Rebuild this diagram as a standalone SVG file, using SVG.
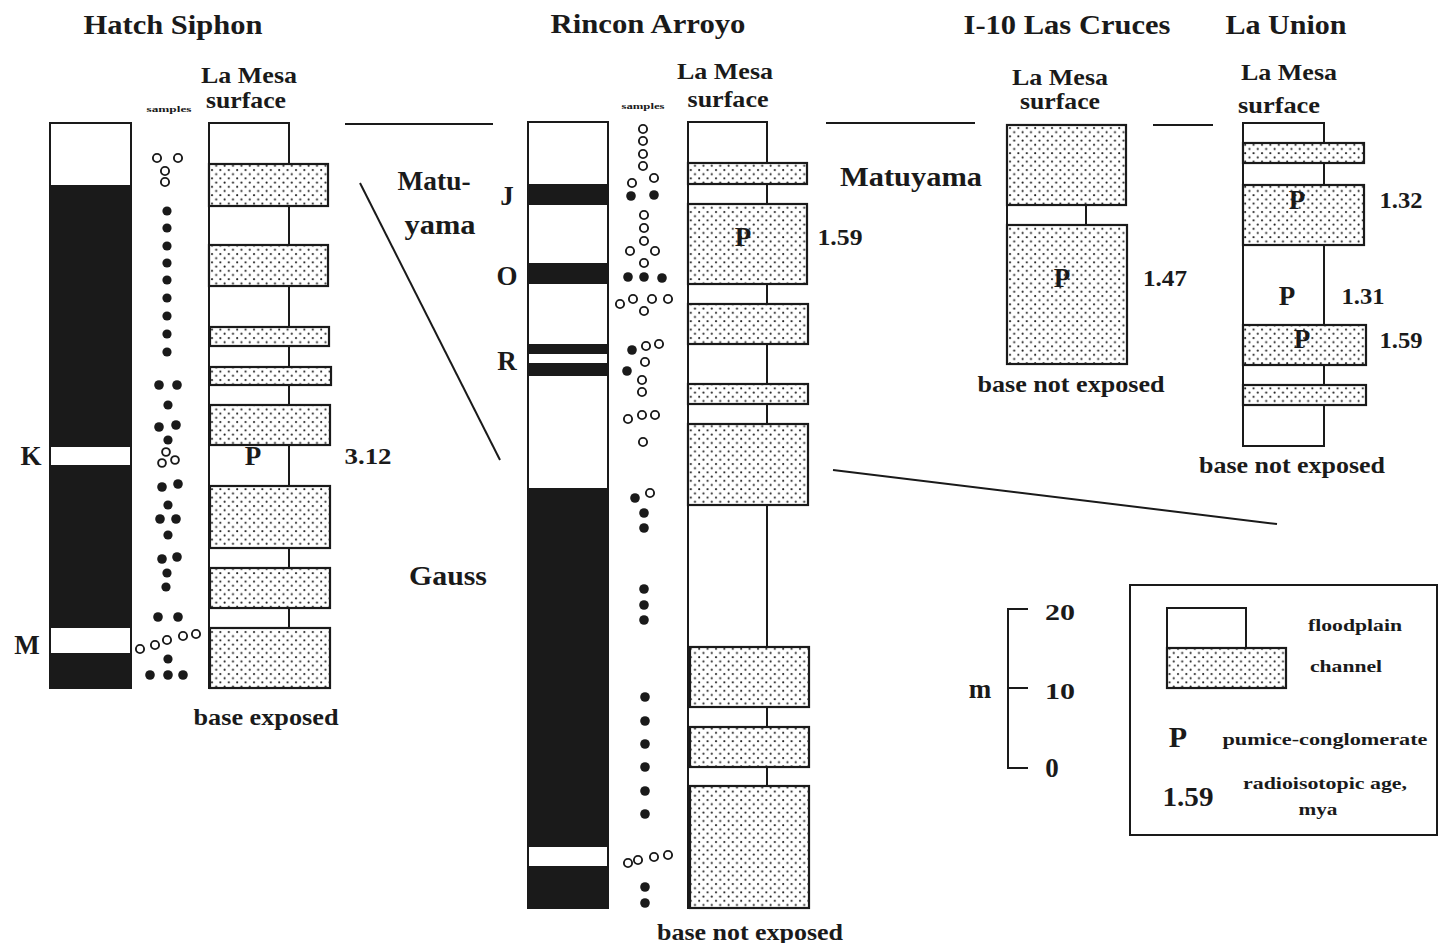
<svg xmlns="http://www.w3.org/2000/svg" width="1439" height="943" viewBox="0 0 1439 943">
<style>
.t{font-family:"Liberation Serif","Times New Roman",serif;font-weight:bold;fill:#1a1a1a}
.ttl{font-size:27px}
.lbl{font-size:24px}
.big{font-size:27px}
.sm{font-size:17px}
.tiny{font-size:9px}
.col{fill:#fff;stroke:#1a1a1a;stroke-width:2}
.ch{fill:url(#stip);stroke:#1a1a1a;stroke-width:2.2}
.blk{fill:#1a1a1a}
.op{fill:none;stroke:#1a1a1a;stroke-width:1.9}
.fd{fill:#1a1a1a}
.ln{stroke:#1a1a1a;stroke-width:2;fill:none}
</style>
<defs>
<pattern id="stip" width="8.4" height="8.4" patternUnits="userSpaceOnUse">
<rect width="8.4" height="8.4" fill="#fff"/>
<circle cx="2" cy="2" r="1.05" fill="#222"/>
<circle cx="6.2" cy="6.2" r="1.05" fill="#222"/>
</pattern>
</defs>
<rect width="1439" height="943" fill="#fff"/>

<!-- Titles -->
<text class="t ttl" x="173" y="34" text-anchor="middle" textLength="179" lengthAdjust="spacingAndGlyphs">Hatch Siphon</text>
<text class="t ttl" x="648" y="33" text-anchor="middle" textLength="195" lengthAdjust="spacingAndGlyphs">Rincon Arroyo</text>
<text class="t ttl" x="1067" y="34" text-anchor="middle" textLength="207" lengthAdjust="spacingAndGlyphs">I-10 Las Cruces</text>
<text class="t ttl" x="1286" y="34" text-anchor="middle" textLength="121" lengthAdjust="spacingAndGlyphs">La Union</text>

<!-- Hatch Siphon -->
<g id="hatch-polarity">
<rect class="col" x="50" y="123" width="81" height="565"/>
<rect class="blk" x="50" y="185" width="81" height="262"/>
<rect class="blk" x="50" y="465" width="81" height="163"/>
<rect class="blk" x="50" y="653" width="81" height="35"/>
<text class="t big" x="31" y="465" text-anchor="middle">K</text>
<text class="t big" x="27" y="654" text-anchor="middle">M</text>
</g>
<g id="hatch-samples">
<text class="t tiny" x="169" y="112" text-anchor="middle" textLength="45" lengthAdjust="spacingAndGlyphs">samples</text>
<circle class="op" cx="157" cy="158" r="4.1"/><circle class="op" cx="178" cy="158" r="4.1"/>
<circle class="op" cx="165" cy="171" r="4.1"/><circle class="op" cx="165" cy="182" r="4.1"/>
<circle class="fd" cx="167" cy="211" r="4.6"/><circle class="fd" cx="167" cy="228" r="4.6"/>
<circle class="fd" cx="167" cy="246" r="4.6"/><circle class="fd" cx="167" cy="263" r="4.6"/>
<circle class="fd" cx="167" cy="280" r="4.6"/><circle class="fd" cx="167" cy="298" r="4.6"/>
<circle class="fd" cx="167" cy="316" r="4.6"/><circle class="fd" cx="167" cy="334" r="4.6"/>
<circle class="fd" cx="167" cy="352" r="4.6"/>
<circle class="fd" cx="159" cy="385" r="4.8"/><circle class="fd" cx="177" cy="385" r="4.8"/>
<circle class="fd" cx="168" cy="405" r="4.6"/>
<circle class="fd" cx="159" cy="427" r="4.8"/><circle class="fd" cx="176" cy="425" r="4.8"/>
<circle class="fd" cx="168" cy="440" r="4.6"/>
<circle class="op" cx="166" cy="452" r="3.9"/><circle class="op" cx="162" cy="463" r="3.9"/><circle class="op" cx="175" cy="460" r="3.9"/>
<circle class="fd" cx="162" cy="487" r="4.8"/><circle class="fd" cx="178" cy="484" r="4.8"/>
<circle class="fd" cx="168" cy="505" r="4.6"/>
<circle class="fd" cx="160" cy="519" r="4.8"/><circle class="fd" cx="176" cy="519" r="4.8"/>
<circle class="fd" cx="168" cy="535" r="4.6"/>
<circle class="fd" cx="162" cy="559" r="4.8"/><circle class="fd" cx="177" cy="557" r="4.8"/>
<circle class="fd" cx="167" cy="573" r="4.6"/><circle class="fd" cx="166" cy="587" r="4.6"/>
<circle class="fd" cx="158" cy="617" r="4.8"/><circle class="fd" cx="178" cy="617" r="4.8"/>
<circle class="op" cx="140" cy="649" r="4.1"/><circle class="op" cx="155" cy="645" r="4.1"/>
<circle class="op" cx="167" cy="640" r="4.1"/><circle class="op" cx="183" cy="636" r="4.1"/>
<circle class="op" cx="196" cy="634" r="4.1"/>
<circle class="fd" cx="168" cy="659" r="4.6"/>
<circle class="fd" cx="150" cy="675" r="4.8"/><circle class="fd" cx="168" cy="675" r="4.8"/><circle class="fd" cx="183" cy="675" r="4.8"/>
</g>
<g id="hatch-lithology">
<text class="t lbl" x="249" y="83" text-anchor="middle" textLength="96" lengthAdjust="spacingAndGlyphs">La Mesa</text>
<text class="t lbl" x="246" y="108" text-anchor="middle" textLength="80" lengthAdjust="spacingAndGlyphs">surface</text>
<rect class="col" x="209" y="123" width="80" height="565"/>
<rect class="ch" x="209" y="164" width="119" height="42"/>
<rect class="ch" x="209" y="245" width="119" height="41"/>
<rect class="ch" x="210" y="327" width="119" height="19"/>
<rect class="ch" x="210" y="367" width="121" height="18"/>
<rect class="ch" x="210" y="405" width="120" height="40"/>
<rect class="ch" x="210" y="486" width="120" height="62"/>
<rect class="ch" x="210" y="568" width="120" height="40"/>
<rect class="ch" x="210" y="628" width="120" height="60"/>
<text class="t big" x="253" y="465" text-anchor="middle">P</text>
<text class="t lbl" x="368" y="464" text-anchor="middle" textLength="47" lengthAdjust="spacingAndGlyphs">3.12</text>
<text class="t lbl" x="266" y="725" text-anchor="middle" textLength="145" lengthAdjust="spacingAndGlyphs">base exposed</text>
</g>

<!-- Rincon Arroyo -->
<g id="rincon-polarity">
<rect class="col" x="528" y="122" width="80" height="786"/>
<rect class="blk" x="528" y="184" width="80" height="21"/>
<rect class="blk" x="528" y="263" width="80" height="21"/>
<rect class="blk" x="528" y="344" width="80" height="10"/>
<rect class="blk" x="528" y="363" width="80" height="13"/>
<rect class="blk" x="528" y="488" width="80" height="359"/>
<rect class="blk" x="528" y="866" width="80" height="42"/>
<text class="t big" x="507" y="205" text-anchor="middle">J</text>
<text class="t big" x="507" y="285" text-anchor="middle">O</text>
<text class="t big" x="507" y="370" text-anchor="middle">R</text>
</g>
<g id="rincon-samples">
<text class="t tiny" x="643" y="109" text-anchor="middle" textLength="43" lengthAdjust="spacingAndGlyphs">samples</text>
<circle class="op" cx="643" cy="129" r="4.1"/><circle class="op" cx="643" cy="141" r="4.1"/>
<circle class="op" cx="643" cy="154" r="4.1"/><circle class="op" cx="643" cy="166" r="4.1"/>
<circle class="op" cx="632" cy="183" r="4.1"/><circle class="op" cx="654" cy="178" r="4.1"/>
<circle class="fd" cx="631" cy="196" r="4.8"/><circle class="fd" cx="654" cy="195" r="4.8"/>
<circle class="op" cx="644" cy="215" r="4.1"/><circle class="op" cx="644" cy="228" r="4.1"/>
<circle class="op" cx="644" cy="241" r="4.1"/>
<circle class="op" cx="630" cy="251" r="4.1"/><circle class="op" cx="655" cy="251" r="4.1"/>
<circle class="op" cx="644" cy="263" r="4.1"/>
<circle class="fd" cx="628" cy="277" r="4.8"/><circle class="fd" cx="644" cy="277" r="4.8"/><circle class="fd" cx="662" cy="278" r="4.8"/>
<circle class="op" cx="620" cy="304" r="4.1"/><circle class="op" cx="633" cy="299" r="4.1"/>
<circle class="op" cx="644" cy="311" r="4.1"/><circle class="op" cx="652" cy="299" r="4.1"/>
<circle class="op" cx="668" cy="299" r="4.1"/>
<circle class="fd" cx="632" cy="350" r="4.8"/><circle class="op" cx="646" cy="346" r="4.1"/><circle class="op" cx="659" cy="344" r="4.1"/>
<circle class="op" cx="645" cy="362" r="4.1"/><circle class="fd" cx="627" cy="371" r="4.8"/>
<circle class="op" cx="642" cy="380" r="4.1"/><circle class="op" cx="642" cy="392" r="4.1"/>
<circle class="op" cx="628" cy="419" r="4.1"/><circle class="op" cx="642" cy="415" r="4.1"/><circle class="op" cx="655" cy="415" r="4.1"/>
<circle class="op" cx="643" cy="442" r="4.1"/>
<circle class="fd" cx="635" cy="498" r="4.8"/><circle class="op" cx="650" cy="493" r="4.1"/>
<circle class="fd" cx="644" cy="513" r="4.8"/><circle class="fd" cx="644" cy="528" r="4.8"/>
<circle class="fd" cx="644" cy="589" r="4.8"/><circle class="fd" cx="644" cy="605" r="4.8"/><circle class="fd" cx="644" cy="620" r="4.8"/>
<circle class="fd" cx="645" cy="697" r="4.8"/><circle class="fd" cx="645" cy="721" r="4.8"/>
<circle class="fd" cx="645" cy="744" r="4.8"/><circle class="fd" cx="645" cy="767" r="4.8"/>
<circle class="fd" cx="645" cy="791" r="4.8"/><circle class="fd" cx="645" cy="814" r="4.8"/>
<circle class="op" cx="628" cy="863" r="4.1"/><circle class="op" cx="638" cy="860" r="4.1"/>
<circle class="op" cx="654" cy="857" r="4.1"/><circle class="op" cx="668" cy="855" r="4.1"/>
<circle class="fd" cx="645" cy="887" r="4.8"/><circle class="fd" cx="645" cy="903" r="4.8"/>
</g>
<g id="rincon-lithology">
<text class="t lbl" x="725" y="79" text-anchor="middle" textLength="96" lengthAdjust="spacingAndGlyphs">La Mesa</text>
<text class="t lbl" x="728" y="107" text-anchor="middle" textLength="81" lengthAdjust="spacingAndGlyphs">surface</text>
<rect class="col" x="688" y="122" width="79" height="786"/>
<rect class="ch" x="688" y="163" width="119" height="21"/>
<rect class="ch" x="688" y="204" width="119" height="80"/>
<rect class="ch" x="688" y="304" width="120" height="40"/>
<rect class="ch" x="688" y="384" width="120" height="20"/>
<rect class="ch" x="688" y="424" width="120" height="81"/>
<rect class="ch" x="690" y="647" width="119" height="60"/>
<rect class="ch" x="690" y="727" width="119" height="40"/>
<rect class="ch" x="690" y="786" width="119" height="122"/>
<text class="t big" x="743" y="246" text-anchor="middle">P</text>
<text class="t lbl" x="840" y="245" text-anchor="middle" textLength="45" lengthAdjust="spacingAndGlyphs">1.59</text>
<text class="t lbl" x="750" y="940" text-anchor="middle" textLength="186" lengthAdjust="spacingAndGlyphs">base not exposed</text>
</g>

<!-- I-10 Las Cruces -->
<g id="i10-lithology">
<text class="t lbl" x="1060" y="85" text-anchor="middle" textLength="96" lengthAdjust="spacingAndGlyphs">La Mesa</text>
<text class="t lbl" x="1060" y="109" text-anchor="middle" textLength="80" lengthAdjust="spacingAndGlyphs">surface</text>
<rect class="col" x="1007" y="125" width="79" height="239"/>
<rect class="ch" x="1007" y="125" width="119" height="80"/>
<rect class="ch" x="1007" y="225" width="120" height="139"/>
<text class="t big" x="1062" y="287" text-anchor="middle">P</text>
<text class="t lbl" x="1165" y="286" text-anchor="middle" textLength="44" lengthAdjust="spacingAndGlyphs">1.47</text>
<text class="t lbl" x="1071" y="392" text-anchor="middle" textLength="187" lengthAdjust="spacingAndGlyphs">base not exposed</text>
</g>

<!-- La Union -->
<g id="launion-lithology">
<text class="t lbl" x="1289" y="80" text-anchor="middle" textLength="96" lengthAdjust="spacingAndGlyphs">La Mesa</text>
<text class="t lbl" x="1279" y="113" text-anchor="middle" textLength="82" lengthAdjust="spacingAndGlyphs">surface</text>
<rect class="col" x="1243" y="123" width="81" height="323"/>
<rect class="ch" x="1243" y="143" width="121" height="20"/>
<rect class="ch" x="1243" y="185" width="121" height="60"/>
<rect class="ch" x="1243" y="325" width="123" height="40"/>
<rect class="ch" x="1243" y="385" width="123" height="20"/>
<text class="t big" x="1297" y="209" text-anchor="middle">P</text>
<text class="t lbl" x="1401" y="208" text-anchor="middle" textLength="43" lengthAdjust="spacingAndGlyphs">1.32</text>
<text class="t big" x="1287" y="305" text-anchor="middle">P</text>
<text class="t lbl" x="1363" y="304" text-anchor="middle" textLength="43" lengthAdjust="spacingAndGlyphs">1.31</text>
<text class="t big" x="1302" y="348" text-anchor="middle">P</text>
<text class="t lbl" x="1401" y="348" text-anchor="middle" textLength="43" lengthAdjust="spacingAndGlyphs">1.59</text>
<text class="t lbl" x="1292" y="473" text-anchor="middle" textLength="186" lengthAdjust="spacingAndGlyphs">base not exposed</text>
</g>

<!-- Correlation connectors -->
<g id="connectors">
<line class="ln" x1="345" y1="124" x2="493" y2="124"/>
<line class="ln" x1="360" y1="183" x2="500" y2="460"/>
<line class="ln" x1="826" y1="123" x2="975" y2="123"/>
<line class="ln" x1="1153" y1="125" x2="1213" y2="125"/>
<line class="ln" x1="833" y1="470" x2="1277" y2="524"/>
</g>

<!-- Chron labels -->
<g id="chron-labels">
<text class="t ttl" x="434" y="190" text-anchor="middle" textLength="73" lengthAdjust="spacingAndGlyphs">Matu-</text>
<text class="t ttl" x="440" y="234" text-anchor="middle" textLength="71" lengthAdjust="spacingAndGlyphs">yama</text>
<text class="t ttl" x="448" y="585" text-anchor="middle" textLength="78" lengthAdjust="spacingAndGlyphs">Gauss</text>
<text class="t ttl" x="911" y="186" text-anchor="middle" textLength="142" lengthAdjust="spacingAndGlyphs">Matuyama</text>
</g>

<!-- Scale bar -->
<g id="scale">
<polyline class="ln" points="1028,609 1008,609 1008,768 1028,768"/>
<line class="ln" x1="1008" y1="688" x2="1028" y2="688"/>
<text class="t lbl" x="1060" y="620" text-anchor="middle" textLength="30" lengthAdjust="spacingAndGlyphs">20</text>
<text class="t lbl" x="1060" y="699" text-anchor="middle" textLength="30" lengthAdjust="spacingAndGlyphs">10</text>
<text class="t big" x="1052" y="777" text-anchor="middle">0</text>
<text class="t big" x="980" y="698" text-anchor="middle">m</text>
</g>

<!-- Legend -->
<g id="legend">
<rect x="1130" y="585" width="307" height="250" fill="#fff" stroke="#1a1a1a" stroke-width="2"/>
<rect class="col" x="1167" y="608" width="79" height="40"/>
<rect class="ch" x="1167" y="648" width="119" height="40"/>
<text class="t sm" x="1355" y="631" text-anchor="middle" textLength="94" lengthAdjust="spacingAndGlyphs">floodplain</text>
<text class="t sm" x="1346" y="672" text-anchor="middle" textLength="72" lengthAdjust="spacingAndGlyphs">channel</text>
<text class="t big" x="1178" y="747" text-anchor="middle" style="font-size:30px">P</text>
<text class="t sm" x="1325" y="745" text-anchor="middle" textLength="205" lengthAdjust="spacingAndGlyphs">pumice-conglomerate</text>
<text class="t big" x="1188" y="806" text-anchor="middle" textLength="51" lengthAdjust="spacingAndGlyphs">1.59</text>
<text class="t sm" x="1325" y="789" text-anchor="middle" textLength="164" lengthAdjust="spacingAndGlyphs">radioisotopic age,</text>
<text class="t sm" x="1318" y="815" text-anchor="middle" textLength="39" lengthAdjust="spacingAndGlyphs">mya</text>
</g>
</svg>
